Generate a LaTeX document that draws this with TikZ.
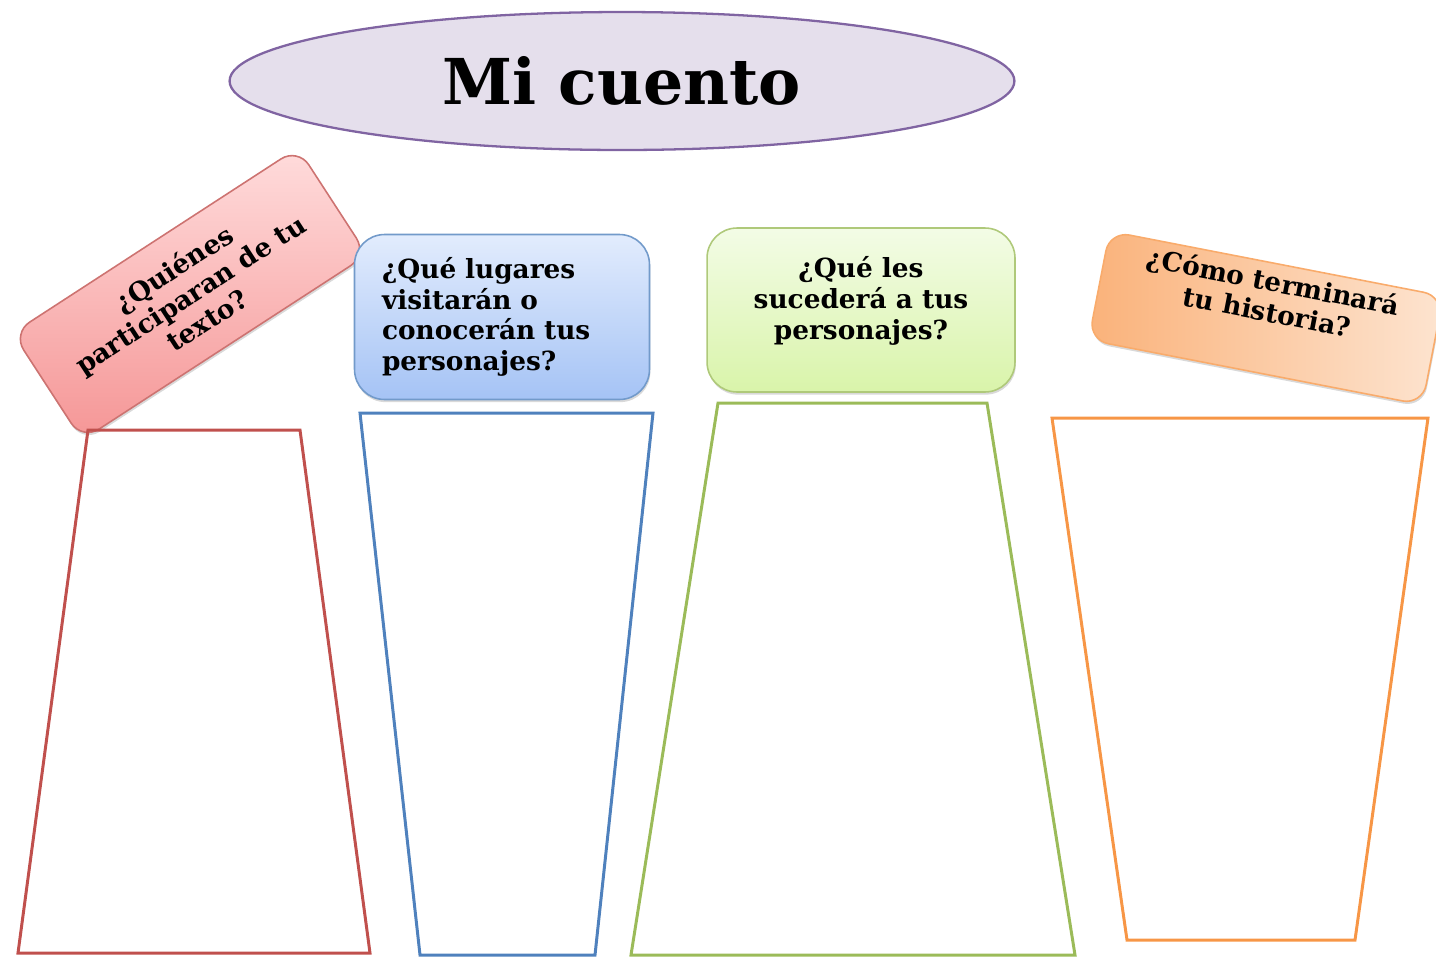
\documentclass[tikz,border=0pt]{standalone}
\usepackage{fontspec}
\setmainfont{DejaVu Serif}
\usetikzlibrary{shadows,shapes.geometric}
\definecolor{redS}{HTML}{C0504D}
\definecolor{blueS}{HTML}{4F81BD}
\definecolor{greenS}{HTML}{9BBB59}
\definecolor{orangeS}{HTML}{F79646}
\definecolor{purpS}{HTML}{8064A2}
\definecolor{purpF}{HTML}{E5DFEC}
\definecolor{redT}{HTML}{FFDCDC}
\definecolor{redB}{HTML}{F59696}
\definecolor{blueT}{HTML}{E2ECFD}
\definecolor{blueB}{HTML}{A5C3F5}
\definecolor{greenT}{HTML}{F3FCE6}
\definecolor{greenB}{HTML}{D9F4AA}
\definecolor{orangeL}{HTML}{FAB27A}
\definecolor{orangeR}{HTML}{FDE4D0}
\tikzset{
  qbox/.style={rectangle, draw, line width=0.9pt, inner sep=4pt,
    font=\bfseries\fontsize{15}{17.5}\selectfont, align=center,
    drop shadow={opacity=0.3, shadow xshift=0.5pt, shadow yshift=-1.5pt}},
  trap/.style={line width=1.7pt, line join=miter}
}
\begin{document}
\begin{tikzpicture}[x=0.02cm,y=-0.02cm]
\useasboundingbox (0,0) rectangle (1436,958);
% title
\node[ellipse, draw=purpS, fill=purpF, line width=1.3pt,
      minimum width=15.7cm, minimum height=2.76cm,
      font=\bfseries\fontsize{36}{40}\selectfont] (title) at (622,81) {Mi cuento};
% question boxes
\node[qbox, draw=redS!80, top color=redT, bottom color=redB,
      rounded corners=0.4cm, rotate=33,
      minimum width=6.8cm, minimum height=2.55cm] (q1) at (190,294)
      {¿Quiénes\\participaran de tu\\texto?};
\node[qbox, draw=blueS!80, top color=blueT, bottom color=blueB,
      rounded corners=0.6cm, align=left, text width=4.8cm, inner sep=0.3cm,
      minimum width=5.9cm, minimum height=3.3cm] (q2) at (502,317)
      {¿Qué lugares\\visitarán o\\conocerán tus\\personajes?\\[4pt]};
\node[qbox, draw=greenS!80, top color=greenT, bottom color=greenB,
      rounded corners=0.6cm,
      minimum width=6.16cm, minimum height=3.28cm] (q3) at (861,310)
      {¿Qué les\\sucederá a tus\\personajes?\\[-4pt]};
\node[qbox, draw=orangeS!80, left color=orangeL, right color=orangeR,
      rounded corners=0.4cm, rotate=-11,
      minimum width=6.8cm, minimum height=2.2cm] (q4) at (1266,318)
      {¿Cómo terminará\\tu historia?\\[8pt]};
% trapezoids
\draw[trap, redS]    (88,430) -- (300,430) -- (370,953) -- (18,953) -- cycle;
\draw[trap, blueS]   (360,413) -- (653,413) -- (595,955) -- (420,955) -- cycle;
\draw[trap, greenS]  (718,403) -- (987,403) -- (1075,955) -- (631,955) -- cycle;
\draw[trap, orangeS] (1052,418) -- (1428,418) -- (1355,940) -- (1127,940) -- cycle;
\end{tikzpicture}
\end{document}
